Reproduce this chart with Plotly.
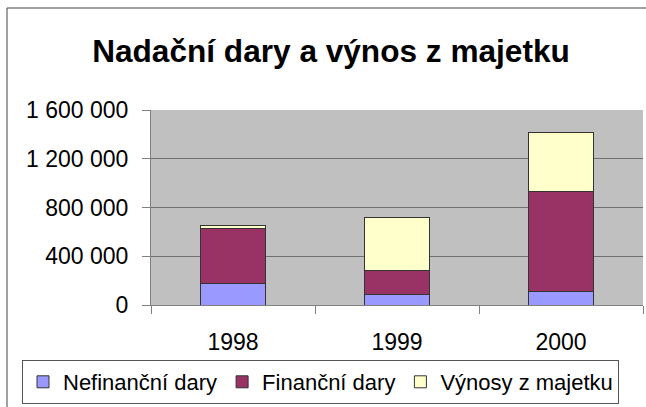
import plotly.graph_objects as go

years = ["1998", "1999", "2000"]
nefinancni = [180000, 85000, 109000]
financni = [446000, 200000, 821000]
vynosy = [30000, 431000, 487000]
ytick_vals = [0, 400000, 800000, 1200000, 1600000]
ytick_text = ["0", "400 000", "800 000", "1 200 000", "1 600 000"]

W, H = 646, 407
L, R, T, B = 151, 643, 110, 305

def px_x(p):
    return (p - L) / (R - L)

def px_y(p):
    return (B - p) / (B - T)

font = "Liberation Sans, Arial, sans-serif"
line = dict(color="#333333", width=1)

fig = go.Figure()
fig.add_bar(x=years, y=nefinancni, name="Nefinanční dary", marker=dict(color="#9999FF", line=line))
fig.add_bar(x=years, y=financni, name="Finanční dary", marker=dict(color="#993366", line=line))
fig.add_bar(x=years, y=vynosy, name="Výnosy z majetku", marker=dict(color="#FFFFCC", line=line))

fig.update_layout(
    width=W, height=H,
    barmode="stack", bargap=0.6,
    margin=dict(l=L, r=W - R, t=T, b=H - B, pad=0),
    paper_bgcolor="white", plot_bgcolor="#C0C0C0",
    font=dict(family=font, size=23, color="black"),
    title=dict(text="<b>Nadační dary a výnos z majetku</b>", x=(92 + 570) / 2 / W, xanchor="center",
               y=1 - 51 / H, yanchor="middle", font=dict(size=31.6, family=font)),
    showlegend=True,
    hovermode=False,
    legend=dict(orientation="h", x=px_x(22), xanchor="left", y=px_y(404), yanchor="bottom",
                bordercolor="#555555", borderwidth=1, bgcolor="white",
                font=dict(size=22, family=font), itemwidth=30, tracegroupgap=0,
                traceorder="normal"),
    xaxis=dict(type="category", showline=True, linecolor="#808080", ticks="outside",
               tickson="boundaries", ticklen=8, tickcolor="#808080", showgrid=False,
               tickfont=dict(size=23), ticklabelstandoff=16),
    yaxis=dict(range=[0, 1600000], tickvals=ytick_vals, ticktext=ytick_text,
               showline=True, linecolor="#808080", ticks="outside", ticklen=8,
               tickcolor="#808080", gridcolor="#707070", gridwidth=1,
               zeroline=False, tickfont=dict(size=23), ticklabelstandoff=9),
    shapes=[dict(type="rect", xref="paper", yref="paper",
                 x0=px_x(7), x1=px_x(652), y0=px_y(415), y1=px_y(8),
                 line=dict(color="#444444", width=1), layer="below")],
)

fig.write_html("out.html", config={"displayModeBar": False},
               post_script="document.body.style.margin='0px';")
